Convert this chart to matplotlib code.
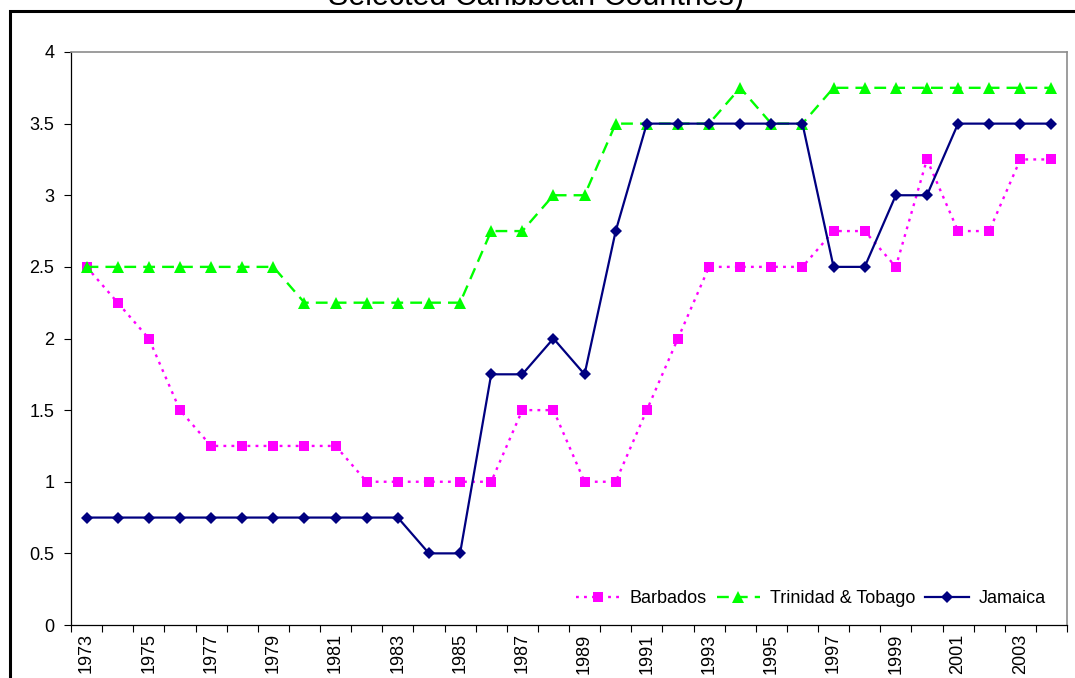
import matplotlib
matplotlib.use("Agg")
import matplotlib.pyplot as plt
from matplotlib.patches import Rectangle
from matplotlib.ticker import FixedLocator, NullFormatter

plt.rcParams['font.family'] = ['Liberation Sans', 'DejaVu Sans']

years = list(range(1973, 2005))
barbados = [2.5, 2.25, 2.0, 1.5, 1.25, 1.25, 1.25, 1.25, 1.25, 1.0, 1.0, 1.0, 1.0, 1.0,
            1.5, 1.5, 1.0, 1.0, 1.5, 2.0, 2.5, 2.5, 2.5, 2.5, 2.75, 2.75, 2.5, 3.25,
            2.75, 2.75, 3.25, 3.25]
trinidad = [2.5, 2.5, 2.5, 2.5, 2.5, 2.5, 2.5, 2.25, 2.25, 2.25, 2.25, 2.25, 2.25, 2.75,
            2.75, 3.0, 3.0, 3.5, 3.5, 3.5, 3.5, 3.75, 3.5, 3.5, 3.75, 3.75, 3.75, 3.75,
            3.75, 3.75, 3.75, 3.75]
jamaica = [0.75, 0.75, 0.75, 0.75, 0.75, 0.75, 0.75, 0.75, 0.75, 0.75, 0.75, 0.5, 0.5,
           1.75, 1.75, 2.0, 1.75, 2.75, 3.5, 3.5, 3.5, 3.5, 3.5, 3.5, 2.5, 2.5, 3.0, 3.0,
           3.5, 3.5, 3.5, 3.5]
title = "Selected Caribbean Countries)"

W, H = 1075, 678
fig = plt.figure(figsize=(W / 100, H / 100), dpi=100)
fig.patch.set_facecolor('white')

# outer chart frame (runs off the right and bottom edges)
fig.patches.append(Rectangle((10 / W, -0.1), 1.2, 1 - 11 / H + 0.1,
                             transform=fig.transFigure, fill=False,
                             edgecolor='black', linewidth=2.2, zorder=0))
fig.text(536 / W, 1 - 5 / H, title, ha='center', va='baseline', fontsize=22)

ax = fig.add_axes([71 / W, 1 - 625 / H, (1067 - 71) / W, (625 - 52) / H])
x = list(range(len(years)))

ax.plot(x, barbados, color='#FF00FF', linestyle=(0, (1.2, 2.2)), linewidth=1.7,
        marker='s', markersize=7.5, markeredgewidth=0, label='Barbados', zorder=3)
ax.plot(x, trinidad, color='#00FF00', linestyle=(0, (5, 3)), linewidth=1.7,
        marker='^', markersize=8.5, markeredgewidth=0, label='Trinidad & Tobago', zorder=3)
ax.plot(x, jamaica, color='#000080', linestyle='-', linewidth=1.6,
        marker='D', markersize=6, markeredgewidth=0, label='Jamaica', zorder=4)

ax.set_xlim(-0.5, len(years) - 0.5)
ax.set_ylim(0, 4)
ax.set_yticks([i * 0.5 for i in range(9)])
ax.set_yticklabels(['0', '0.5', '1', '1.5', '2', '2.5', '3', '3.5', '4'])

ax.xaxis.set_major_locator(FixedLocator([i - 0.5 for i in range(len(years) + 1)]))
ax.xaxis.set_major_formatter(NullFormatter())
ax.xaxis.set_minor_locator(FixedLocator(x[::2]))
ax.set_xticklabels([str(y) for y in years[::2]], minor=True, rotation=90, fontsize=13)
ax.tick_params(axis='x', which='major', direction='out', length=5, width=0.8, color='black')
ax.tick_params(axis='x', which='minor', length=0, pad=6)
ax.tick_params(axis='y', direction='out', length=5, width=0.8, color='black',
               labelsize=13, pad=7)

for s in ('left', 'bottom'):
    ax.spines[s].set_color('black')
    ax.spines[s].set_linewidth(0.9)
for s in ('top', 'right'):
    ax.spines[s].set_color('#8c8c8c')
    ax.spines[s].set_linewidth(1.2)

leg = ax.legend(loc='lower right', ncol=3, frameon=False, fontsize=13,
                bbox_to_anchor=(0.995, 0.003), handlelength=2.4, handletextpad=0.55,
                columnspacing=0.55)

fig.savefig('out.png', dpi=100)
